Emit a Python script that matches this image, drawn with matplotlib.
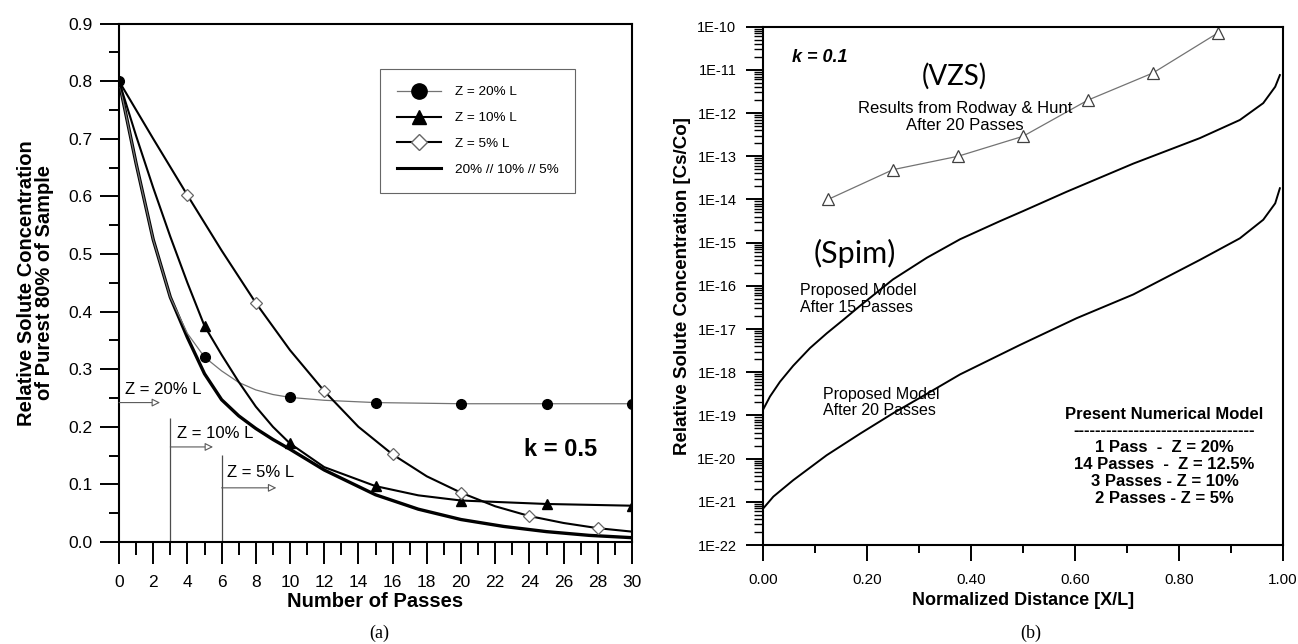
import numpy as np
import matplotlib
matplotlib.use("Agg")
import matplotlib.pyplot as plt
from matplotlib.lines import Line2D
from matplotlib.ticker import MultipleLocator, LogLocator, FuncFormatter, NullFormatter

plt.rcParams['font.family'] = ['Liberation Sans', 'DejaVu Sans']

# ---- panel (a): k = 0.5 ----
passes_20 = [0, 1, 2, 3, 4, 5, 6, 7, 8, 9, 10, 12, 15, 20, 25, 30]
conc_20 = [0.8, 0.657, 0.525, 0.425, 0.362, 0.321, 0.297, 0.277, 0.264, 0.256,
           0.251, 0.246, 0.242, 0.24, 0.24, 0.24]
marks_20 = [0, 5, 10, 15, 20, 25, 30]

passes_10 = [0, 1, 2, 3, 4, 5, 6, 7, 8, 9, 10, 12, 15, 17.5, 20, 25, 30]
conc_10 = [0.8, 0.705, 0.615, 0.53, 0.45, 0.375, 0.325, 0.278, 0.235, 0.2,
           0.171, 0.13, 0.097, 0.081, 0.072, 0.066, 0.063]
marks_10 = [5, 10, 15, 20, 25, 30]

passes_5 = [0, 2, 4, 6, 8, 10, 12, 14, 16, 18, 20, 22, 24, 26, 28, 30]
conc_5 = [0.8, 0.70, 0.602, 0.506, 0.415, 0.333, 0.262, 0.2, 0.152, 0.114,
          0.0856, 0.062, 0.045, 0.033, 0.024, 0.018]
marks_5 = [4, 8, 12, 16, 20, 24, 28]

passes_all = [0, 1, 2, 3, 4, 5, 6, 7, 8, 9, 10, 12, 15, 17.5, 20, 22.5, 25, 27.5, 30]
conc_all = [0.8, 0.657, 0.525, 0.425, 0.355, 0.292, 0.247, 0.219, 0.197, 0.178,
            0.161, 0.125, 0.082, 0.057, 0.039, 0.027, 0.018, 0.0115, 0.0075]

switch_passes = [3, 6]

# ---- panel (b): k = 0.1 ----
dist_vzs = [0.125, 0.25, 0.375, 0.5, 0.625, 0.75, 0.875]
conc_vzs = [1.0e-14, 4.9e-14, 1.0e-13, 2.9e-13, 2.0e-12, 8.5e-12, 7.2e-11]

dist_15 = [0.0, 0.0135, 0.0327, 0.058, 0.0904, 0.1225, 0.154, 0.187, 0.25, 0.315,
           0.379, 0.456, 0.5, 0.584, 0.712, 0.84, 0.917, 0.962, 0.985, 0.994]
conc_15 = [1.35e-19, 2.75e-19, 6.03e-19, 1.41e-18, 3.63e-18, 7.94e-18, 1.62e-17,
           3.47e-17, 1.41e-16, 4.47e-16, 1.20e-15, 3.16e-15, 5.37e-15, 1.51e-14,
           6.76e-14, 2.63e-13, 6.92e-13, 1.70e-12, 4.07e-12, 7.59e-12]

dist_20 = [0.0, 0.0199, 0.058, 0.1225, 0.187, 0.25, 0.315, 0.379, 0.494, 0.603,
           0.712, 0.84, 0.917, 0.962, 0.985, 0.994]
conc_20b = [6.92e-22, 1.32e-21, 3.16e-21, 1.20e-20, 3.80e-20, 1.12e-19, 3.16e-19,
            8.91e-19, 4.27e-18, 1.78e-17, 6.31e-17, 3.98e-16, 1.26e-15, 3.39e-15,
            8.13e-15, 1.82e-14]

W, H = 1298, 644
fig = plt.figure(figsize=(W / 100, H / 100), dpi=100)
ax1 = fig.add_axes([119 / W, 1 - 542 / H, (632 - 119) / W, (542 - 23.5) / H])
ax2 = fig.add_axes([763 / W, 1 - 545 / H, (1283 - 763) / W, (545 - 26.7) / H])


def idx(xs, marks):
    return [i for i, v in enumerate(xs) if v in marks]


# panel (a)
ax1.plot(passes_20, conc_20, color='0.45', lw=0.9, marker='o', ms=7,
         mfc='k', mec='k', markevery=idx(passes_20, marks_20), zorder=3)
ax1.plot(passes_10, conc_10, color='k', lw=1.5, marker='^', ms=7,
         mfc='k', mec='k', markevery=idx(passes_10, marks_10), zorder=3)
ax1.plot(passes_5, conc_5, color='k', lw=1.5, marker='D', ms=6,
         mfc='white', mec='0.4', mew=0.9, markevery=idx(passes_5, marks_5), zorder=3)
ax1.plot(passes_all, conc_all, color='k', lw=2.4, zorder=2)

ax1.vlines(switch_passes, 0, [0.215, 0.151], color='0.3', lw=0.9)
arrow = dict(arrowstyle='-|>', ec='0.35', fc='white', lw=0.8,
             mutation_scale=12, shrinkA=0, shrinkB=0)
ax1.annotate('', xy=(2.4, 0.242), xytext=(0, 0.242), arrowprops=arrow)
ax1.annotate('', xy=(5.5, 0.165), xytext=(3, 0.165), arrowprops=arrow)
ax1.annotate('', xy=(9.2, 0.094), xytext=(6, 0.094), arrowprops=arrow)
ax1.text(0.35, 0.264, 'Z = 20% L', fontsize=12, va='center')
ax1.text(3.4, 0.189, 'Z = 10% L', fontsize=12, va='center')
ax1.text(6.3, 0.120, 'Z = 5% L', fontsize=12, va='center')
ax1.text(25.8, 0.160, 'k = 0.5', fontsize=17, fontweight='bold',
         ha='center', va='center')

ax1.set_xlim(0, 30)
ax1.set_ylim(0, 0.9)
ax1.xaxis.set_major_locator(MultipleLocator(2))
ax1.xaxis.set_minor_locator(MultipleLocator(1))
ax1.yaxis.set_major_locator(MultipleLocator(0.1))
ax1.yaxis.set_minor_locator(MultipleLocator(0.05))
ax1.yaxis.set_major_formatter(FuncFormatter(lambda v, p: f"{v:.1f}"))
ax1.tick_params(axis='x', which='major', length=15.5, width=1.4, pad=8, labelsize=12.5)
ax1.tick_params(axis='x', which='minor', length=9, width=1.4)
ax1.tick_params(axis='y', which='major', length=13.7, width=1.4, pad=5.5, labelsize=12.5)
ax1.tick_params(axis='y', which='minor', length=7, width=1.4)
for s in ax1.spines.values():
    s.set_linewidth(1.5)
ax1.set_xlabel('Number of Passes', fontsize=14.5, fontweight='bold')
ax1.xaxis.set_label_coords(0.5, -0.096)
ax1.set_ylabel('Relative Solute Concentration\nof Purest 80% of Sample',
               fontsize=14.5, fontweight='bold', linespacing=0.95)
ax1.yaxis.set_label_coords(-0.127, 0.5)

handles = [
    Line2D([], [], color='0.45', lw=0.9, marker='o', ms=11, mfc='k', mec='k'),
    Line2D([], [], color='k', lw=1.5, marker='^', ms=10, mfc='k', mec='k'),
    Line2D([], [], color='k', lw=1.5, marker='D', ms=8, mfc='white', mec='0.4'),
    Line2D([], [], color='k', lw=2.2),
]
leg = ax1.legend(handles, ['Z = 20% L', 'Z = 10% L', 'Z = 5% L', '20% // 10% // 5%'],
                 loc='upper left', bbox_to_anchor=(0.509, 0.912), fontsize=9.7,
                 handlelength=3.3, handletextpad=1.0, borderpad=1.25,
                 labelspacing=1.0, borderaxespad=0, fancybox=False,
                 edgecolor='0.4', framealpha=1)
leg.get_frame().set_linewidth(0.8)

# panel (b)
ax2.plot(dist_vzs, conc_vzs, color='0.45', lw=0.9, marker='^', ms=9,
         mfc='white', mec='0.25', mew=0.9)
ax2.plot(dist_15, conc_15, color='k', lw=1.4)
ax2.plot(dist_20, conc_20b, color='k', lw=1.4)

ax2.set_yscale('log')
ax2.set_xlim(0, 1)
ax2.set_ylim(1e-22, 1e-10)
ax2.xaxis.set_major_locator(MultipleLocator(0.2))
ax2.xaxis.set_minor_locator(MultipleLocator(0.1))
ax2.xaxis.set_major_formatter(FuncFormatter(lambda v, p: f"{v:.2f}"))
ax2.yaxis.set_major_locator(LogLocator(base=10, numticks=30))
ax2.yaxis.set_minor_locator(LogLocator(base=10, subs=np.arange(2, 10), numticks=300))
ax2.yaxis.set_major_formatter(FuncFormatter(lambda v, p: f"1E{int(round(np.log10(v)))}"))
ax2.yaxis.set_minor_formatter(NullFormatter())
ax2.tick_params(axis='x', which='major', length=11.5, width=1.4, pad=9, labelsize=11)
ax2.tick_params(axis='x', which='minor', length=6, width=1.4)
ax2.tick_params(axis='y', which='major', length=12.6, width=1.4, pad=6.5, labelsize=10.5)
ax2.tick_params(axis='y', which='minor', length=6.5, width=1.0)
for s in ax2.spines.values():
    s.set_linewidth(1.5)
ax2.set_xlabel('Normalized Distance [X/L]', fontsize=13, fontweight='bold')
ax2.xaxis.set_label_coords(0.5, -0.091)
ax2.set_ylabel('Relative Solute Concentration [Cs/Co]', fontsize=13.5, fontweight='bold')
ax2.yaxis.set_label_coords(-0.139, 0.5)

ax2.text(0.055, 10 ** -10.72, 'k = 0.1', fontsize=13, fontweight='bold',
         fontstyle='italic', va='center')
ax2.text(0.367, 10 ** -11.14, '(VZS)', fontsize=20, family=['Lato', 'DejaVu Sans'],
         ha='center', va='center')
ax2.text(0.388, 10 ** -12.09, 'Results from Rodway & Hunt\nAfter 20 Passes',
         fontsize=12, ha='center', va='center', linespacing=1.15)
ax2.text(0.177, 10 ** -15.24, '(Spim)', fontsize=22, family=['Lato', 'DejaVu Sans'],
         ha='center', va='center')
ax2.text(0.071, 10 ** -16.30, 'Proposed Model\nAfter 15 Passes', fontsize=11.5,
         ha='left', va='center', linespacing=1.15)
ax2.text(0.115, 10 ** -18.70, 'Proposed Model\nAfter 20 Passes', fontsize=11.5,
         ha='left', va='center', linespacing=1.15)
ax2.text(0.772, 10 ** -19.94,
         'Present Numerical Model\n' + '-' * 33 + '\n1 Pass  -  Z = 20%\n'
         '14 Passes  -  Z = 12.5%\n3 Passes - Z = 10%\n2 Passes - Z = 5%',
         fontsize=12, fontweight='bold', ha='center', va='center',
         multialignment='center', linespacing=1.15)

fig.text(379 / W, 1 - 633 / H, '(a)', fontsize=13, family='Liberation Serif',
         ha='center', va='center')
fig.text(1031 / W, 1 - 633 / H, '(b)', fontsize=13, family='Liberation Serif',
         ha='center', va='center')

fig.savefig('out.png', dpi=100)
